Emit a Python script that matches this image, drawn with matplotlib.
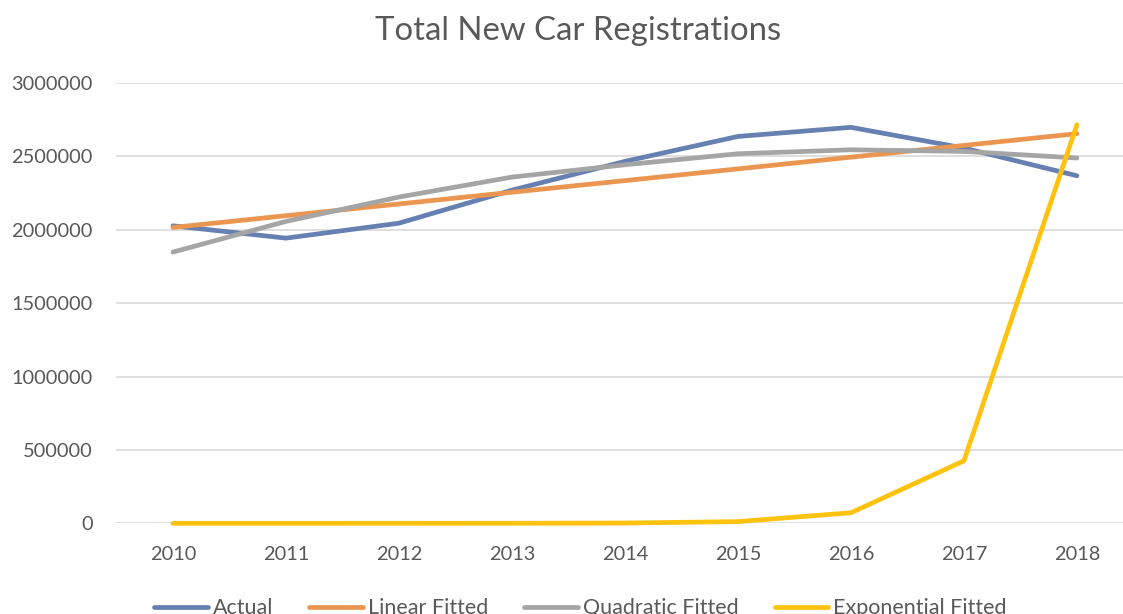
import matplotlib
matplotlib.use("Agg")
import matplotlib.pyplot as plt

plt.rcParams['font.family'] = ['Lato', 'DejaVu Sans']

years = ['2010', '2011', '2012', '2013', '2014', '2015', '2016', '2017', '2018']
actual = [2027000, 1943000, 2045000, 2270000, 2466000, 2636000, 2698000, 2557000, 2368000]
linear = [2016000, 2096000, 2176000, 2256000, 2335000, 2415000, 2495000, 2575000, 2655000]
quadratic = [1848000, 2057000, 2223000, 2359000, 2443000, 2518000, 2545000, 2534000, 2489000]
exponential = [1, 8, 50, 300, 1900, 11600, 72000, 426000, 2716000]

series = [
    ('Actual', actual, '#6680b1'),
    ('Linear Fitted', linear, '#eb9650'),
    ('Quadratic Fitted', quadratic, '#a5a5a5'),
    ('Exponential Fitted', exponential, '#ffc20e'),
]

fig = plt.figure(figsize=(11.23, 6.14), dpi=100)
ax = fig.add_axes([0.1037, 0.1477, 0.9056, 0.7171])

x = list(range(len(years)))
for label, vals, color in series:
    ax.plot(x, vals, color=color, linewidth=3.4, label=label, clip_on=False,
            solid_capstyle='round', solid_joinstyle='round')

ax.set_xlim(-0.5, len(years) - 0.5)
ax.set_ylim(0, 3000000)
ax.set_yticks(range(0, 3000001, 500000))
ax.set_yticklabels([str(v) for v in range(0, 3000001, 500000)])
ax.set_xticks(x)
ax.set_xticklabels(years)

ax.grid(axis='y', color='#d9d9d9', linewidth=1.2)
ax.set_axisbelow(True)
for s in ['top', 'right', 'left', 'bottom']:
    ax.spines[s].set_visible(False)
ax.tick_params(axis='both', length=0, labelsize=14.4, colors='#595959')
ax.tick_params(axis='y', pad=17)
ax.tick_params(axis='x', pad=16)

fig.text(0.515, 0.95, 'Total New Car Registrations', ha='center', va='center',
         fontsize=23.7, color='#595959')

# legend sits at the bottom edge, partly cut off as in the source image
fig.legend(loc='center', bbox_to_anchor=(0.517, 0.009), ncol=4, frameon=False,
           fontsize=15.5, handlelength=2.5, handletextpad=0.23, columnspacing=1.67,
           labelcolor='#595959')

fig.savefig('out.png', dpi=100)
